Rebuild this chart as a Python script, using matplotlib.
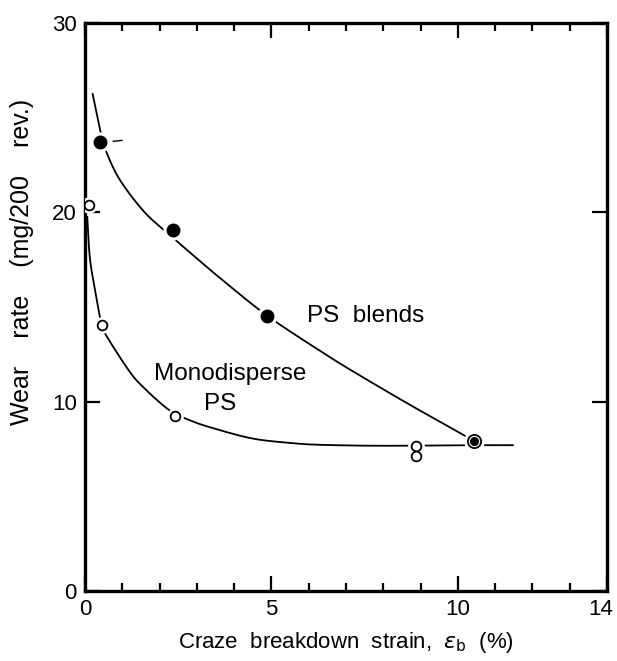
import numpy as np
import matplotlib
matplotlib.use("Agg")
import matplotlib.pyplot as plt
from matplotlib.transforms import ScaledTranslation

plt.rcParams['font.family'] = ['Liberation Sans', 'DejaVu Sans']
plt.rcParams['mathtext.fontset'] = 'dejavusans'

# ---- data ----
blend_x = [0.4, 2.35, 4.88]
blend_y = [23.7, 19.05, 14.5]
mono_x = [0.1, 0.45, 2.41, 8.87, 8.87]
mono_y = [20.4, 14.05, 9.22, 7.64, 7.14]
common_x = [10.42]
common_y = [7.94]

# hand-drawn trend curves (traced points)
blend_curve_x = [0.2, 0.42, 0.57, 0.94, 1.6, 2.25, 2.83, 3.64, 4.88, 6.33, 7.23, 8.7, 10.1, 10.42]
blend_curve_y = [26.3, 24.2, 23.2, 21.7, 20.0, 18.85, 17.85, 16.5, 14.55, 12.65, 11.55, 9.85, 8.3, 7.94]
mono_curve_x = [0.06, 0.13, 0.27, 0.45, 0.63, 1.21, 1.57, 2.11, 2.41, 2.77, 3.3, 4.45, 5.5, 6.33, 8.0, 10.0, 11.5]
mono_curve_y = [19.8, 17.6, 15.9, 14.05, 13.3, 11.55, 10.75, 9.78, 9.38, 9.05, 8.68, 8.07, 7.82, 7.72, 7.67, 7.7, 7.7]

x_ticks = [0, 5, 10, 14]
x_minor = [1, 2, 3, 4, 6, 7, 8, 9, 11, 12, 13]
y_ticks = [0, 10, 20, 30]


def catmull_rom(xs, ys, n=25):
    P = np.column_stack([xs, ys]).astype(float)
    P = np.vstack([2 * P[0] - P[1], P, 2 * P[-1] - P[-2]])
    out = []
    for i in range(1, len(P) - 2):
        p0, p1, p2, p3 = P[i - 1], P[i], P[i + 1], P[i + 2]
        t = np.linspace(0, 1, n, endpoint=False)[:, None]
        pts = 0.5 * ((2 * p1) + (-p0 + p2) * t + (2 * p0 - 5 * p1 + 4 * p2 - p3) * t ** 2
                     + (-p0 + 3 * p1 - 3 * p2 + p3) * t ** 3)
        out.append(pts)
    out.append(P[-2][None, :])
    arr = np.vstack(out)
    return arr[:, 0], arr[:, 1]


fig = plt.figure(figsize=(6.17, 6.61), dpi=100)
ax = fig.add_axes([85 / 617, 1 - 591 / 661, (607 - 85) / 617, (591 - 23) / 661])

cx, cy = catmull_rom(blend_curve_x, blend_curve_y)
ax.plot(cx, cy, color='black', lw=1.3, zorder=2, solid_capstyle='butt')
cx, cy = catmull_rom(mono_curve_x, mono_curve_y)
ax.plot(cx, cy, color='black', lw=1.3, zorder=2, solid_capstyle='butt')

# white halos to break the curves around the markers
ax.plot(blend_x, blend_y, 'o', ms=13.5, color='white', mec='white', zorder=3, ls='none')
ax.plot(mono_x, mono_y, 'o', ms=11, color='white', mec='white', zorder=3, ls='none')
ax.plot(common_x, common_y, 'o', ms=14, color='white', mec='white', zorder=3, ls='none')

ax.plot(blend_x, blend_y, 'o', ms=9, color='black', mec='black', zorder=4, ls='none')
ax.plot(mono_x, mono_y, 'o', ms=7, mfc='white', mec='black', mew=1.3, zorder=4, ls='none')
ax.plot(common_x, common_y, 'o', ms=9.5, mfc='white', mec='black', mew=1.3, zorder=4, ls='none')
ax.plot(common_x, common_y, 'o', ms=5.5, color='black', zorder=5, ls='none')

# small stray dash beside the first blend point
ax.plot([0.76, 0.99], [23.75, 23.8], color='black', lw=1.0, zorder=2)

ax.text(7.53, 14.5, 'PS  blends', fontsize=17.5, ha='center', va='center')
ax.text(3.89, 11.45, 'Monodisperse', fontsize=17.5, ha='center', va='center')
ax.text(3.62, 9.9, 'PS', fontsize=17.5, ha='center', va='center')

ax.set_xlim(0, 14)
ax.set_ylim(0, 30)
ax.set_xticks(x_ticks)
ax.set_xticks(x_minor, minor=True)
ax.set_yticks(y_ticks)
ax.set_xticklabels([str(v) for v in x_ticks])
ax.set_yticklabels([str(v) for v in y_ticks])

ax.tick_params(which='major', direction='in', length=11, width=1.6, top=True, right=True,
               labelsize=16, pad=6)
ax.tick_params(which='minor', direction='in', length=6, width=1.6, top=True, right=True)
for s in ax.spines.values():
    s.set_linewidth(2.4)

# keep the last x tick label inside the figure
last = ax.get_xticklabels()[-1]
last.set_transform(last.get_transform() + ScaledTranslation(-6 / 100, 0, fig.dpi_scale_trans))

ax.set_xlabel(r'Craze  breakdown  strain,  $\epsilon_{\rm b}$  (%)', fontsize=16, labelpad=7)
ax.set_ylabel('Wear    rate    (mg/200    rev.)', fontsize=18)
ax.yaxis.set_label_coords(-0.098, (591 - 262) / 568)

fig.savefig('out.png', dpi=100)
